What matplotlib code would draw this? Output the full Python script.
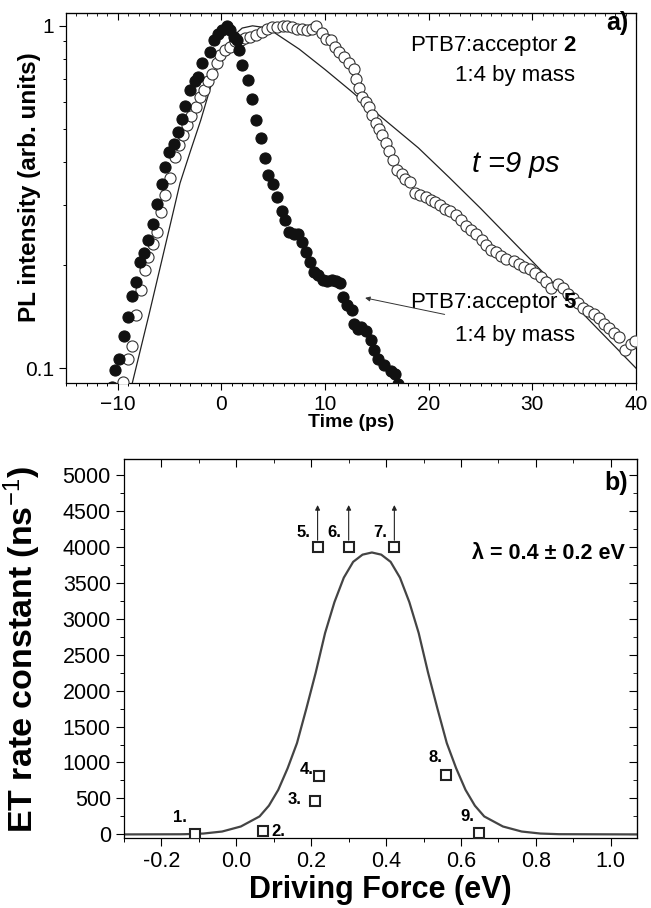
import numpy as np
import matplotlib
matplotlib.use('Agg')
import matplotlib.pyplot as plt
from matplotlib.ticker import MultipleLocator, LogLocator, NullFormatter, FormatStrFormatter

plt.rcParams['font.family'] = ['Liberation Sans', 'DejaVu Sans']
plt.rcParams['mathtext.fontset'] = 'custom'
plt.rcParams['mathtext.rm'] = 'Liberation Sans'
plt.rcParams['mathtext.it'] = 'Liberation Sans:italic'
plt.rcParams['mathtext.bf'] = 'Liberation Sans:bold'

# ---- panel a: PL decay (acceptor 2, open circles) ----
t_acc2 = [-9.9, -9.46, -8.97, -8.59, -8.2, -7.78, -7.42, -7.04, -6.62, -6.2, -5.8, -5.42,
          -4.94, -4.52, -4.1, -3.75, -3.33, -2.9, -2.5, -2.1, -1.7, -1.29, -0.9, -0.42, -0.1,
          0.39, 0.87, 1.35, 1.84, 2.3, 2.8, 3.3, 3.9, 4.4, 4.9, 5.4, 5.9, 6.35, 6.84, 7.32,
          7.8, 8.29, 8.77, 9.16, 9.68, 10.07, 10.55, 11.0, 11.37, 11.8, 12.3, 12.8, 12.95,
          13.3, 13.6, 13.9, 14.2, 14.5, 14.9, 15.2, 15.5, 15.9, 16.2, 16.6, 16.95, 17.4,
          17.75, 18.2, 18.7, 19.2, 19.7, 20.2, 20.6, 21.1, 21.6, 22.1, 22.6, 23.1, 23.6,
          24.1, 24.6, 25.1, 25.5, 26.0, 26.5, 27.0, 27.5, 28.2, 28.7, 29.2, 29.8, 30.3,
          30.8, 31.3, 31.8, 32.5, 33.0, 33.4, 33.9, 34.4, 34.9, 35.4, 35.9, 36.4, 36.9,
          37.4, 37.9, 38.4, 38.9, 39.5, 39.9]
pl_acc2 = [0.085, 0.091, 0.106, 0.116, 0.143, 0.169, 0.194, 0.211, 0.231, 0.25, 0.286, 0.32,
           0.36, 0.413, 0.45, 0.48, 0.513, 0.545, 0.58, 0.62, 0.65, 0.69, 0.725, 0.78, 0.82,
           0.85, 0.87, 0.9, 0.91, 0.92, 0.93, 0.94, 0.96, 0.98, 0.99, 0.99, 1.0, 1.0, 0.99,
           0.98, 0.98, 0.97, 0.98, 1.0, 0.95, 0.918, 0.91, 0.87, 0.84, 0.81, 0.78, 0.75,
           0.70, 0.66, 0.62, 0.60, 0.58, 0.55, 0.52, 0.50, 0.48, 0.454, 0.43, 0.405, 0.38,
           0.37, 0.358, 0.35, 0.324, 0.32, 0.316, 0.31, 0.306, 0.30, 0.292, 0.287, 0.28,
           0.27, 0.26, 0.253, 0.247, 0.237, 0.229, 0.222, 0.218, 0.213, 0.208, 0.205, 0.201,
           0.198, 0.195, 0.19, 0.184, 0.178, 0.172, 0.176, 0.171, 0.165, 0.16, 0.155, 0.15,
           0.147, 0.144, 0.14, 0.135, 0.131, 0.127, 0.123, 0.113, 0.118, 0.12]

# acceptor 5, filled circles
t_acc5 = [-10.6, -10.26, -9.85, -9.43, -9.04, -8.59, -8.23, -7.84, -7.45, -7.04, -6.62, -6.24,
          -5.76, -5.42, -5.03, -4.61, -4.2, -3.81, -3.49, -2.99, -2.58, -2.25, -1.88, -1.07,
          -0.75, -0.32, 0.06, 0.55, 0.87, 1.19, 1.51, 1.67, 1.99, 2.57, 2.9, 3.35, 3.78,
          4.16, 4.51, 4.97, 5.38, 5.8, 6.12, 6.51, 7.0, 7.4, 7.73, 8.12, 8.5, 8.93, 9.35,
          9.8, 10.2, 10.7, 11.08, 11.4, 11.72, 12.14, 12.57, 12.82, 13.2, 13.44, 13.92,
          14.4, 14.73, 15.15, 15.7, 16.34, 16.7, 17.0]
pl_acc5 = [0.088, 0.099, 0.106, 0.124, 0.141, 0.163, 0.178, 0.204, 0.217, 0.237, 0.263, 0.302,
           0.345, 0.387, 0.428, 0.453, 0.49, 0.534, 0.584, 0.65, 0.69, 0.71, 0.78, 0.84,
           0.91, 0.946, 0.97, 1.0, 0.97, 0.93, 0.91, 0.85, 0.77, 0.694, 0.61, 0.532, 0.47,
           0.412, 0.367, 0.346, 0.316, 0.287, 0.27, 0.25, 0.247, 0.247, 0.233, 0.218, 0.204,
           0.191, 0.187, 0.181, 0.18, 0.181, 0.18, 0.177, 0.161, 0.153, 0.148, 0.135, 0.13,
           0.132, 0.128, 0.121, 0.113, 0.106, 0.102, 0.098, 0.096, 0.09]

# fit curve for acceptor 2
t_fit = [-8.7, -7, -6, -5, -4, -3, -2, -1, 0, 1, 2, 3, 4, 5, 7.5, 10, 12.5, 15, 19, 22, 25,
         30, 35, 40]
pl_fit = [0.088, 0.143, 0.192, 0.258, 0.347, 0.43, 0.53, 0.67, 0.81, 0.925, 0.985, 1.0,
          0.99, 0.96, 0.855, 0.745, 0.645, 0.555, 0.44, 0.36, 0.293, 0.205, 0.143, 0.10]

# ---- panel b: ET rate vs driving force ----
dg = [-0.11, 0.07, 0.21, 0.22, 0.217, 0.30, 0.422, 0.561, 0.648]
k_et = [0, 45, 461, 807, 4000, 4000, 4000, 831, 24]
point_labels = ['1.', '2.', '3.', '4.', '5.', '6.', '7.', '8.', '9.']
lower_bound = [False, False, False, False, True, True, True, False, False]

# Marcus fit curve
dg_fit = [-0.30, -0.15, -0.138, -0.088, -0.038, 0.012, 0.062, 0.087, 0.112, 0.137, 0.162,
          0.187, 0.212, 0.237, 0.262, 0.287, 0.312, 0.337, 0.362, 0.387, 0.412, 0.437,
          0.462, 0.487, 0.512, 0.537, 0.562, 0.587, 0.612, 0.637, 0.662, 0.712, 0.762,
          0.812, 0.862, 1.07]
k_fit = [0, 2, 3, 12, 40, 110, 250, 400, 620, 920, 1270, 1750, 2250, 2800, 3230, 3570,
         3790, 3890, 3920, 3890, 3790, 3570, 3230, 2800, 2250, 1750, 1270, 920, 620, 400,
         250, 110, 40, 12, 3, 0]

fig = plt.figure(figsize=(6.51, 9.08), dpi=100)

# panel a
ax1 = fig.add_axes([66 / 651, 1 - 383 / 908, 570 / 651, 370 / 908])
ax1.plot(t_fit, pl_fit, color='#222222', lw=0.9, zorder=2)
ax1.plot(t_acc2, pl_acc2, 'o', ms=8, mfc='white', mec='#333333', mew=0.8, zorder=3)
ax1.plot(t_acc5, pl_acc5, 'o', ms=8, mfc='#111111', mec='#111111', mew=0.8, zorder=4)
ax1.set_yscale('log')
ax1.set_xlim(-15, 40)
ax1.set_ylim(0.0905, 1.09)
ax1.set_yticks([0.1, 1])
ax1.set_yticklabels(['0.1', '1'])
ax1.yaxis.set_minor_locator(LogLocator(base=10, subs=np.arange(2, 10)))
ax1.yaxis.set_minor_formatter(NullFormatter())
ax1.xaxis.set_major_locator(MultipleLocator(10))
ax1.xaxis.set_minor_locator(MultipleLocator(1))
ax1.tick_params(axis='both', which='major', labelsize=15, length=5, width=0.8, direction='out')
ax1.tick_params(axis='both', which='minor', length=2.5, width=0.7, direction='out')
ax1t = ax1.secondary_xaxis('top')
ax1t.xaxis.set_major_locator(MultipleLocator(10))
ax1t.xaxis.set_minor_locator(MultipleLocator(1))
ax1t.tick_params(which='major', direction='in', length=5, labeltop=False)
ax1t.tick_params(which='minor', direction='in', length=2.5)
ax1.set_xlabel('Time (ps)', fontsize=14, fontweight='bold', labelpad=0)
ax1.set_ylabel('PL intensity (arb. units)', fontsize=17.5, fontweight='bold')
ax1.yaxis.set_label_coords(-0.044, 0.53)
for s in ax1.spines.values():
    s.set_linewidth(0.9)

ax1.text(0.986, 0.972, 'a)', transform=ax1.transAxes, ha='right', va='center',
         fontsize=18, fontweight='bold')
ax1.text(0.897, 0.911, r'PTB7:acceptor $\mathbf{2}$', transform=ax1.transAxes,
         ha='right', va='center', fontsize=16)
ax1.text(0.893, 0.830, '1:4 by mass', transform=ax1.transAxes, ha='right', va='center',
         fontsize=16)
ax1.text(0.79, 0.588, r'$t$ =9 ps', transform=ax1.transAxes, ha='center', va='center',
         fontsize=21, fontstyle='italic')
ax1.text(0.897, 0.216, r'PTB7:acceptor $\mathbf{5}$', transform=ax1.transAxes,
         ha='right', va='center', fontsize=16)
ax1.text(0.893, 0.129, '1:4 by mass', transform=ax1.transAxes, ha='right', va='center',
         fontsize=16)
ax1.annotate('', xy=(13.6, 0.161), xytext=(21.8, 0.143),
             arrowprops=dict(arrowstyle='-|>', lw=0.7, color='#333333', mutation_scale=7))

# panel b
ax2 = fig.add_axes([124 / 651, 1 - 838 / 908, 513 / 651, 379 / 908])
ax2.plot(dg_fit, k_fit, color='#444444', lw=1.6, zorder=2)
ax2.plot(dg, k_et, 's', ms=7.5, mfc='white', mec='#222222', mew=1.5, zorder=3)
offsets = [(-11, 12), (11.5, 0), (-15, 1.5), (-9, 5), (-10, 10), (-10, 10), (-10, 10),
           (-8, 12), (-8.5, 12)]
for x, y, lab, off, up in zip(dg, k_et, point_labels, offsets, lower_bound):
    ax2.annotate(lab, (x, y), xytext=off, textcoords='offset points', ha='center',
                 va='center', fontsize=12, fontweight='bold')
    if up:
        ax2.annotate('', xy=(x, y + 580), xytext=(x, y + 90),
                     arrowprops=dict(arrowstyle='-|>', lw=0.8, color='#222222',
                                     mutation_scale=7, shrinkA=0, shrinkB=0))
ax2.set_xlim(-0.3, 1.07)
ax2.set_ylim(-50, 5220)
ax2.xaxis.set_major_locator(MultipleLocator(0.2))
ax2.xaxis.set_minor_locator(MultipleLocator(0.1))
ax2.yaxis.set_major_locator(MultipleLocator(500))
ax2.yaxis.set_minor_locator(MultipleLocator(250))
ax2.xaxis.set_major_formatter(FormatStrFormatter('%.1f'))
ax2.tick_params(axis='both', which='major', labelsize=15.5, length=6, width=0.8, direction='out')
ax2.tick_params(axis='both', which='minor', length=3, width=0.7, direction='out')
ax2t = ax2.secondary_xaxis('top')
ax2t.xaxis.set_major_locator(MultipleLocator(0.2))
ax2t.xaxis.set_minor_locator(MultipleLocator(0.1))
ax2t.tick_params(which='major', direction='in', length=6, labeltop=False)
ax2t.tick_params(which='minor', direction='in', length=3)
ax2r = ax2.secondary_yaxis('right')
ax2r.yaxis.set_major_locator(MultipleLocator(500))
ax2r.yaxis.set_minor_locator(MultipleLocator(250))
ax2r.tick_params(which='major', direction='in', length=6, labelright=False)
ax2r.tick_params(which='minor', direction='in', length=3)
ax2.set_xlabel('Driving Force (eV)', fontsize=22, fontweight='bold', labelpad=2)
ax2.set_ylabel(r'ET rate constant (ns$^{-1}$)', fontsize=24.5, fontweight='bold')
ax2.yaxis.set_label_coords(-0.158, 0.496)
for s in ax2.spines.values():
    s.set_linewidth(0.9)
ax2.text(0.983, 0.937, 'b)', transform=ax2.transAxes, ha='right', va='center',
         fontsize=18, fontweight='bold')
ax2.text(0.977, 0.75, 'λ = 0.4 ± 0.2 eV', transform=ax2.transAxes, ha='right', va='center',
         fontsize=15.5, fontweight='bold')

fig.savefig('out.png', dpi=100)
